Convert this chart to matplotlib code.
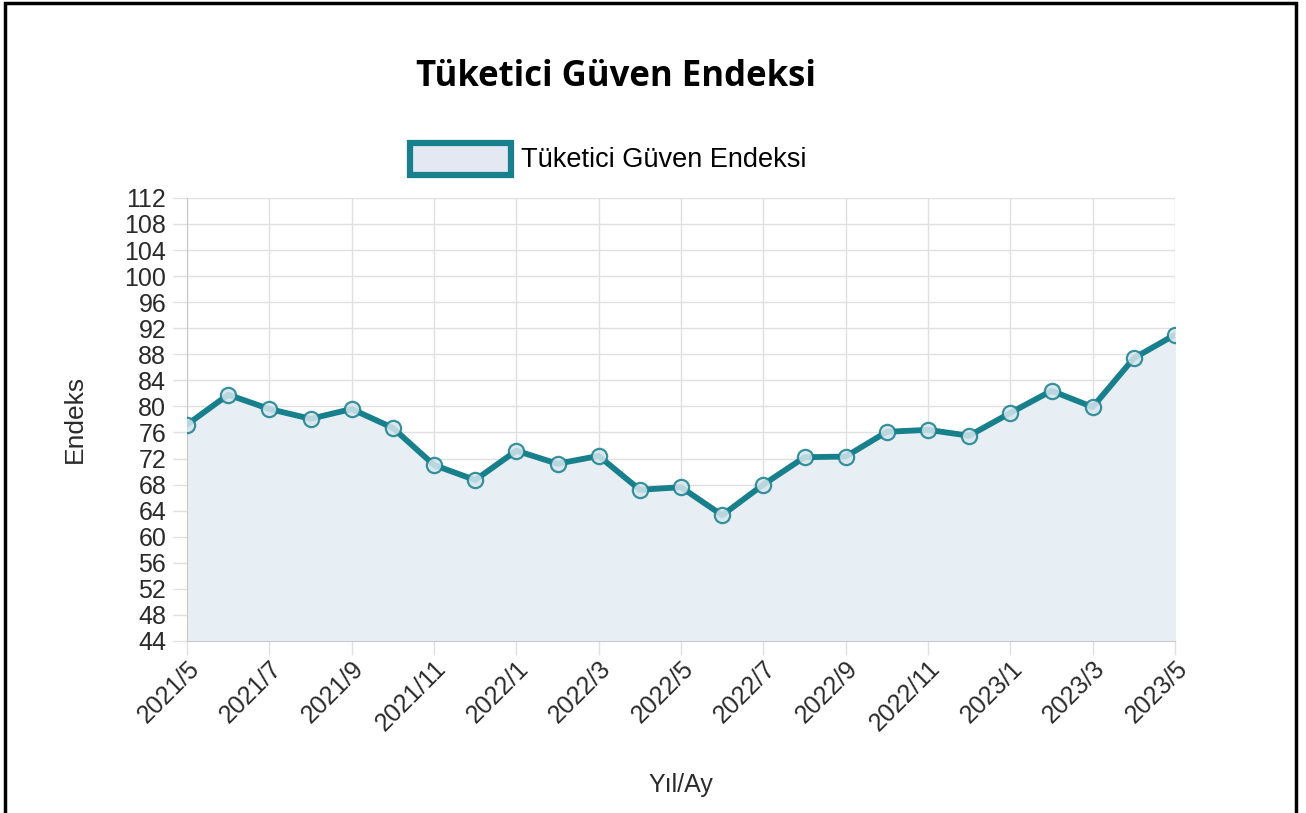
import numpy as np
import matplotlib.pyplot as plt
from matplotlib.patches import Rectangle, Patch
from matplotlib.legend_handler import HandlerPatch

# monthly index values, 2021/5 .. 2023/5
months = ["2021/5", "2021/6", "2021/7", "2021/8", "2021/9", "2021/10", "2021/11",
          "2021/12", "2022/1", "2022/2", "2022/3", "2022/4", "2022/5", "2022/6",
          "2022/7", "2022/8", "2022/9", "2022/10", "2022/11", "2022/12", "2023/1",
          "2023/2", "2023/3", "2023/4", "2023/5"]
values = [77.2, 81.8, 79.6, 78.1, 79.6, 76.7, 71.0, 68.7, 73.2, 71.2, 72.4, 67.2,
          67.6, 63.3, 68.0, 72.2, 72.3, 76.1, 76.4, 75.5, 79.0, 82.4, 79.9, 87.4, 91.0]
y_ticks = list(range(44, 113, 4))

title = "Tüketici Güven Endeksi"
series_name = "Tüketici Güven Endeksi"
x_label = "Yıl/Ay"
y_label = "Endeks"

line_color = "#187f8d"
fill_color = "#e8eff4"
grid_color = "#e0e0e0"
text_color = "#2a2a2a"

plt.rcParams["font.family"] = ["Liberation Sans", "DejaVu Sans"]

fig = plt.figure(figsize=(13.06, 8.13), dpi=100)
ax = fig.add_axes([0.1432, 0.2116, 0.7565, 0.545])

x = np.arange(len(months))
ax.fill_between(x, values, y_ticks[0], color=fill_color, zorder=1)
ax.plot(x, values, color=line_color, lw=4.2, zorder=3, solid_joinstyle="round")
ax.plot(x, values, ls="none", marker="o", ms=11, mfc="#d5e6ec", mec=line_color,
        mew=1.6, alpha=0.85, zorder=4)

ax.set_xlim(0, len(months) - 1)
ax.set_ylim(y_ticks[0], y_ticks[-1])
ax.set_yticks(y_ticks)
ax.set_yticklabels([str(v) for v in y_ticks], fontsize=18, color=text_color)
ax.set_xticks(x[::2])
ax.set_xticklabels(months[::2], rotation=45, ha="right", rotation_mode="anchor",
                   fontsize=18, color=text_color)
ax.tick_params(axis="x", length=10, width=1, color=grid_color, pad=1)
ax.tick_params(axis="y", length=10, width=1, color=grid_color, pad=5)

ax.grid(True, color=grid_color, lw=1, zorder=0)
ax.set_axisbelow(True)
for side in ["top", "right"]:
    ax.spines[side].set_visible(False)
ax.spines["left"].set_color("#c8c8c8")
ax.spines["bottom"].set_color("#c8c8c8")

ax.set_xlabel(x_label, fontsize=18, color=text_color, labelpad=27)
ax.set_ylabel(y_label, fontsize=19, color=text_color, labelpad=27)

fig.text(0.472, 0.905, title, ha="center", va="center", fontsize=25,
         fontweight="bold", family=["Open Sans", "DejaVu Sans"])

handle = Patch(facecolor="#e4e8f2", edgecolor=line_color, linewidth=4.5)


class WideBox(HandlerPatch):
    def create_artists(self, legend, orig_handle, xdescent, ydescent, width,
                       height, fontsize, trans):
        r = Rectangle((-xdescent, -ydescent - 6), width, height + 10,
                      facecolor=orig_handle.get_facecolor(),
                      edgecolor=orig_handle.get_edgecolor(), lw=4.5,
                      transform=trans)
        return [r]


fig.legend([handle], [series_name], loc="center", bbox_to_anchor=(0.466, 0.803),
           frameon=False, fontsize=19.5, handlelength=3.7, handletextpad=0.4,
           handler_map={Patch: WideBox()})

# outer frame
fig.patches.append(Rectangle((0.004, -0.01), 0.988, 1.006, transform=fig.transFigure,
                             fill=False, edgecolor="black", lw=2.5))

fig.savefig("out.png", dpi=100)
